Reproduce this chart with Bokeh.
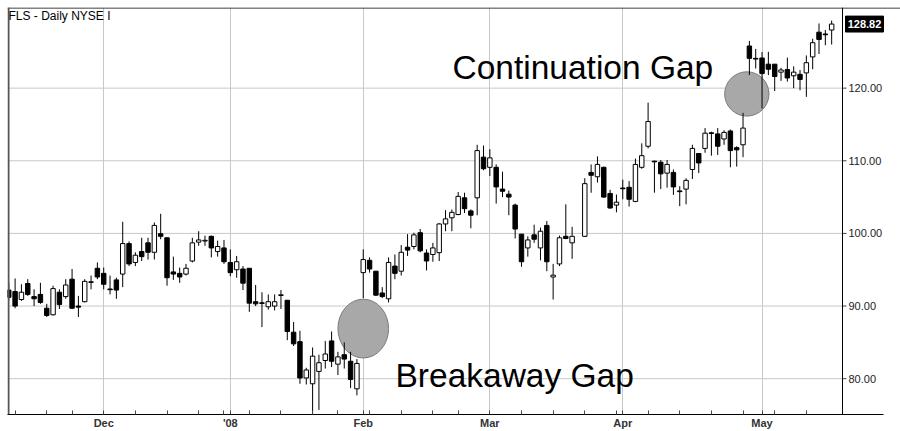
from bokeh.plotting import figure
from bokeh.models import FixedTicker, Label, ColumnDataSource, Span
from bokeh.core.properties import value
from bokeh.embed import file_html
from bokeh.resources import INLINE

TITLE = "FLS - Daily NYSE I"
MONTH_SLOTS = [15, 35, 56, 76, 97, 119]
MONTH_LABELS = ["Dec", "'08", "Feb", "Mar", "Apr", "May"]
WEEK_SLOTS = [1, 6, 10, 20, 25, 30, 34, 38, 43, 48, 52, 57, 62, 67, 71, 81, 86, 91,
              96, 101, 106, 111, 116, 121, 126]
PRICE_TICKS = [80, 90, 100, 110, 120]

# daily OHLC, one entry per trading slot (None = empty slot, Good Friday)
OPEN = [92.2, 92.0, 90.9, 93.1, 91.3, 91.6, 89.7, 88.8, 91.9, 91.3,
        93.7, 90.0, 90.6, 93.25, 95.2, 94.5, 92.35, 93.6, 94.4, 98.6,
        96.0, 97.5, 98.7, 97.4, 99.96, 99.4, 94.7, 94.5, 94.4, 96.2,
        98.8, 98.95, 99.6, 97.5, 98.0, 96.0, 95.0, 95.1, 95.2, 90.6,
        90.45, 89.9, 90.0, 91.45, 90.8, 86.4, 85.1, 80.1, 79.3, 81.0,
        82.5, 85.2, 82.0, 83.3, 82.4, 78.6, 94.6, 96.3, 94.8, 91.8,
        91.0, 95.5, 94.8, 98.1, 98.2, 100.1, 97.3, 97.1, 97.35, 101.3,
        102.15, 102.6, 104.9, 103.1, 104.9, 110.5, 109.1, 109.1, 106.1, 105.4,
        103.9, 99.9, 98.0, 99.8, 98.0, 101.1, 94.0, 95.8, 99.6, 98.7,
        None, 99.6, 108.4, 107.8, 109.1, 105.5, 103.9, 106.25, 106.35, 104.4,
        109.1, 112.0, 109.95, 109.8, 108.3, 108.4, 105.85, 106.1, 108.8, 111.0,
        111.7, 113.85, 113.7, 113.0, 114.1, 111.8, 112.2, 125.8, 124.1, 124.15,
        123.3, 123.3, 122.2, 122.55, 121.7, 121.9, 122.1, 124.3, 127.7, 127.45,
        128.0]
HIGH = [93.2, 93.8, 93.0, 93.7, 92.3, 93.2, 90.3, 92.8, 92.3, 93.7,
        95.1, 91.4, 93.7, 94.2, 96.0, 95.3, 94.2, 93.9, 101.6, 98.9,
        97.4, 99.4, 99.4, 101.5, 102.7, 99.4, 96.8, 95.3, 95.8, 99.4,
        100.3, 99.7, 99.7, 99.0, 99.1, 97.8, 96.9, 95.5, 95.2, 92.9,
        91.9, 91.6, 91.6, 92.2, 90.8, 87.8, 86.6, 81.5, 84.3, 83.3,
        85.2, 86.5, 83.7, 85.0, 83.7, 82.7, 97.8, 96.7, 94.8, 92.6,
        96.7, 97.1, 98.4, 99.9, 100.1, 100.6, 97.8, 98.7, 101.4, 103.2,
        103.3, 105.7, 105.6, 103.3, 112.2, 112.1, 111.6, 109.5, 108.5, 105.9,
        104.1, 99.9, 99.6, 101.2, 100.8, 101.7, 95.8, 99.7, 104.0, 100.9,
        None, 107.6, 109.5, 110.6, 109.2, 106.0, 105.35, 107.4, 107.2, 110.3,
        112.4, 118.0, 110.0, 110.1, 110.1, 108.8, 106.5, 107.6, 112.2, 111.0,
        114.5, 114.0, 114.5, 114.2, 114.3, 112.0, 116.6, 126.5, 125.4, 124.97,
        125.0, 123.3, 122.8, 124.2, 123.0, 122.5, 124.5, 126.8, 128.9, 128.0,
        129.3]
LOW = [90.8, 89.7, 90.7, 91.4, 90.0, 90.3, 88.5, 88.7, 89.6, 91.0,
       89.6, 88.5, 90.5, 92.3, 93.7, 92.3, 91.6, 91.0, 92.6, 95.5,
       95.5, 96.2, 96.4, 96.4, 99.2, 92.8, 93.6, 93.2, 94.2, 96.0,
       98.3, 98.3, 96.7, 96.8, 95.8, 94.1, 93.9, 92.2, 89.2, 90.0,
       87.1, 89.5, 89.4, 89.6, 85.3, 84.5, 79.3, 79.2, 75.2, 75.7,
       81.4, 81.6, 80.5, 81.4, 78.7, 77.7, 91.1, 94.6, 91.4, 91.1,
       90.5, 93.7, 94.2, 96.9, 97.8, 97.4, 94.9, 96.1, 96.2, 100.3,
       100.3, 102.5, 102.8, 100.7, 102.5, 108.7, 107.9, 104.1, 105.0, 102.5,
       99.3, 95.4, 96.8, 98.7, 96.3, 94.8, 90.9, 95.5, 99.2, 96.5,
       None, 99.5, 105.6, 107.0, 104.9, 103.4, 102.9, 104.7, 103.7, 104.3,
       108.9, 111.7, 105.6, 106.1, 106.3, 105.3, 103.75, 104.0, 107.5, 108.3,
       111.1, 110.7, 110.8, 112.2, 109.1, 109.2, 110.5, 121.8, 122.7, 117.2,
       121.8, 119.6, 121.0, 120.9, 120.0, 119.7, 118.8, 122.6, 124.7, 125.9,
       126.0]
CLOSE = [91.2, 90.0, 91.9, 91.6, 91.0, 90.5, 88.7, 92.4, 90.2, 92.9,
         89.7, 89.85, 93.4, 93.35, 94.0, 93.0, 92.25, 92.2, 98.6, 95.8,
         97.0, 96.8, 97.4, 101.1, 99.6, 93.9, 94.4, 94.0, 95.2, 98.7,
         99.1, 99.05, 98.0, 98.2, 96.1, 94.6, 96.1, 93.15, 90.4, 90.3,
         90.35, 90.6, 90.6, 91.55, 86.5, 84.8, 80.1, 81.2, 83.1, 82.2,
         83.4, 82.4, 83.0, 82.7, 79.9, 82.1, 96.4, 95.1, 91.5, 91.3,
         96.0, 94.5, 97.4, 97.7, 99.8, 97.6, 96.2, 98.0, 101.3, 102.0,
         102.9, 105.1, 103.4, 102.5, 111.4, 108.9, 110.4, 106.4, 105.8, 105.0,
         100.6, 96.1, 99.1, 99.2, 100.3, 96.1, 94.25, 99.4, 99.3, 99.6,
         None, 106.85, 108.0, 109.5, 105.0, 103.5, 104.3, 106.15, 104.7, 109.5,
         110.7, 115.4, 109.85, 108.2, 109.5, 106.4, 105.75, 107.3, 111.7, 109.7,
         113.8, 113.75, 112.0, 113.9, 111.4, 111.5, 114.5, 124.1, 124.0, 122.0,
         122.6, 121.6, 122.5, 121.4, 122.2, 121.2, 123.5, 126.25, 126.7, 127.35,
         128.82]

# gaps marked on the chart: (slot of first candle after the gap, label)
GAPS = [(56, "Breakaway Gap"), (117, "Continuation Gap")]

# ---- layout (pixels) ----
W, H = 900, 431
FRAME_L, FRAME_T, FRAME_B = 7, 7, 416
AXIS_PX = 842            # price axis line position
DATE_AXIS_END_PX = 883   # date axis line ends here
SLOT_PX = 6.33           # pixels per trading slot
X0 = -0.2                # slot value at the frame's left edge
Y_TOP, Y_BOT = 131.1, 75.07
PX_PER_PRICE = (FRAME_B - FRAME_T) / (Y_TOP - Y_BOT)


def px_to_x(px):
    return X0 + (px - FRAME_L) / SLOT_PX


def px_to_y(py):
    return Y_TOP - (py - FRAME_T) / PX_PER_PRICE


X1 = px_to_x(W)
AX = px_to_x(AXIS_PX)

xs, o, h, l, c = [], [], [], [], []
for i in range(len(OPEN)):
    if OPEN[i] is None:
        continue
    xs.append(i); o.append(OPEN[i]); h.append(HIGH[i]); l.append(LOW[i]); c.append(CLOSE[i])

up = [ci >= oi for oi, ci in zip(o, c)]
src = ColumnDataSource(dict(
    x=xs, high=h, low=l,
    top=[max(a, b) for a, b in zip(o, c)],
    bottom=[min(a, b) for a, b in zip(o, c)],
    fill=["white" if u else "black" for u in up],
))

p = figure(width=W, height=H, x_range=(X0, X1), y_range=(Y_BOT, Y_TOP),
           output_backend="svg", toolbar_location=None, y_axis_location=None,
           min_border_left=FRAME_L, min_border_right=0, min_border_top=FRAME_T,
           min_border_bottom=H - FRAME_B)
p.background_fill_color = "white"
p.border_fill_color = "white"
p.outline_line_color = None

# bottom (date) axis
p.xaxis.bounds = (X0, px_to_x(DATE_AXIS_END_PX))
p.xaxis.ticker = FixedTicker(ticks=MONTH_SLOTS, minor_ticks=WEEK_SLOTS)
p.xaxis.major_label_overrides = {s: t for s, t in zip(MONTH_SLOTS, MONTH_LABELS)}
p.xaxis.major_tick_in = 4
p.xaxis.major_tick_out = 0
p.xaxis.minor_tick_in = 4
p.xaxis.minor_tick_out = 0
p.xaxis.major_label_standoff = 2
p.xaxis.major_label_text_font = "Liberation Sans"
p.xaxis.major_label_text_font_size = "11px"
p.xaxis.major_label_text_font_style = "bold"
p.xaxis.major_label_text_color = "#333333"
p.xaxis.axis_line_color = "black"
p.xaxis.major_tick_line_color = "#444444"
p.xaxis.minor_tick_line_color = "#444444"

p.xgrid.ticker = FixedTicker(ticks=MONTH_SLOTS)
p.xgrid.grid_line_color = "#C8C8C8"
p.ygrid.grid_line_color = None

# frame lines: full-width top rule and a heavier left edge
p.add_layout(Span(location=px_to_y(7.5), dimension="width", line_color="black", line_width=1))
p.add_layout(Span(location=px_to_x(8), dimension="height", line_color="#555555", line_width=2))

# price grid, stopping at the price axis
p.segment(x0=[X0] * len(PRICE_TICKS), x1=[AX] * len(PRICE_TICKS),
          y0=PRICE_TICKS, y1=PRICE_TICKS, line_color="#C8C8C8", line_width=1)

# gap circles (under the candles)
gap_specs = {56: (0.0, 8.0, 8.1), 117: (-0.4, 7.0, 6.1)}
for slot, label in GAPS:
    dx, w, hh = gap_specs[slot]
    cy = (HIGH[slot - 1] + LOW[slot]) / 2
    p.ellipse(x=[slot + dx], y=[cy], width=w, height=hh,
              fill_color="#A8A8A8", line_color="#7A7A7A", line_width=1)

# candles
p.segment(x0="x", y0="high", x1="x", y1="low", source=src, line_color="black", line_width=1)
p.vbar(x="x", width=0.7, top="top", bottom="bottom", fill_color="fill",
       line_color="black", line_width=1, source=src)

# price axis on the right, drawn inside the frame
p.add_layout(Span(location=AX, dimension="height", line_color="black", line_width=1))
tick_len = 4 / SLOT_PX
p.segment(x0=[AX] * len(PRICE_TICKS), x1=[AX + tick_len] * len(PRICE_TICKS),
          y0=PRICE_TICKS, y1=PRICE_TICKS, line_color="#444444", line_width=1)
p.text(x=[px_to_x(AXIS_PX + 6)] * len(PRICE_TICKS), y=PRICE_TICKS,
       text=[f"{v:.2f}" for v in PRICE_TICKS], text_font=value("Liberation Sans"),
       text_font_size="11px", text_color="#222222", text_baseline="middle", text_align="left")

# last price tag
last = CLOSE[-1]
p.rect(x=[px_to_x(864)], y=[last], width=38 / SLOT_PX, height=16 / PX_PER_PRICE,
       fill_color="black", line_color="black")
p.text(x=[px_to_x(864)], y=[last], text=[f"{last:.2f}"], text_font=value("Liberation Sans"),
       text_font_size="11px", text_font_style="bold", text_color="white",
       text_baseline="middle", text_align="center")

# annotations
p.add_layout(Label(x=px_to_x(395), y=px_to_y(377), text=GAPS[0][1], text_font="Liberation Sans",
                   text_font_size="33.5px", text_color="black", text_baseline="alphabetic"))
p.add_layout(Label(x=px_to_x(452), y=px_to_y(67), text=GAPS[1][1], text_font="Liberation Sans",
                   text_font_size="33.5px", text_color="black", text_baseline="alphabetic"))
p.add_layout(Label(x=px_to_x(8), y=px_to_y(9), text=TITLE, text_font="Liberation Sans",
                   text_font_size="12px", text_color="black", text_baseline="top"))

open("out.html", "w").write(file_html(p, INLINE))
